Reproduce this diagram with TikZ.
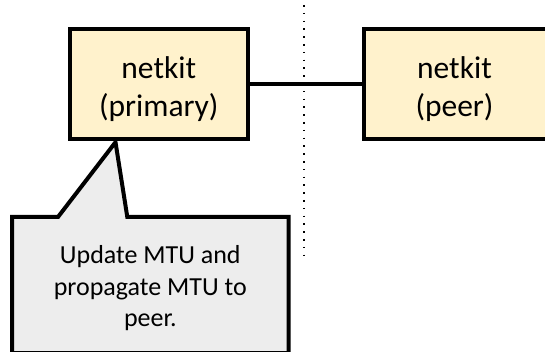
\documentclass[tikz,border=0pt]{standalone}
\usepackage{fontspec}
\setmainfont{Carlito}
\usetikzlibrary{calc}
\definecolor{devfill}{HTML}{FFF2CC}
\definecolor{notefill}{HTML}{EDEDED}
\begin{document}
\begin{tikzpicture}[x=1pt,y=-1pt,
  devbox/.style={draw=black, line width=4pt, fill=devfill, inner sep=0pt},
  devtext/.style={align=center, inner sep=0pt, font=\fontsize{31.5}{38}\selectfont},
  notetext/.style={align=center, inner sep=0pt, font=\fontsize{26}{31.7}\selectfont},
  notebox/.style={draw=black, line width=4pt, fill=notefill, miter limit=10},
  link/.style={draw=black, line width=3.2pt},
  divider/.style={draw=black, line width=1.7pt, dash pattern=on 1.7pt off 6.1pt}]
\useasboundingbox (0,0) rectangle (545,352);
\clip (0,0) rectangle (545,352);

% boundary between the two namespaces
\coordinate (divtop) at (304.3,5);
\coordinate (divbot) at (304.3,259);
\draw[divider] (divtop) -- (divbot);

% the two netkit devices
\node[devbox, minimum width=177.7pt, minimum height=109.2pt] (prim) at (158.85,84.1) {};
\node[devtext] (primtxt) at (158.8,89) {netkit\\(primary)};
\node[devbox, minimum width=184.3pt, minimum height=109.2pt] (peer) at (455.9,84.1) {};
\node[devtext] (peertxt) at (454.5,89) {netkit\\(peer)};

% device pair link
\draw[link] (prim.east) -- (peer.west);

% callout pointing at the primary device
\coordinate (tip) at ($(prim.south west)+(47.5,1.5)$);
\draw[notebox] (58,217) -- (tip) -- (127.3,217) -- (288.7,217)
  -- (288.7,353) -- (12,353) -- (12,217) -- cycle;
\node[notetext] (note) at (150.3,288.3) {Update MTU and\\propagate MTU to\\peer.};
\end{tikzpicture}
\end{document}
